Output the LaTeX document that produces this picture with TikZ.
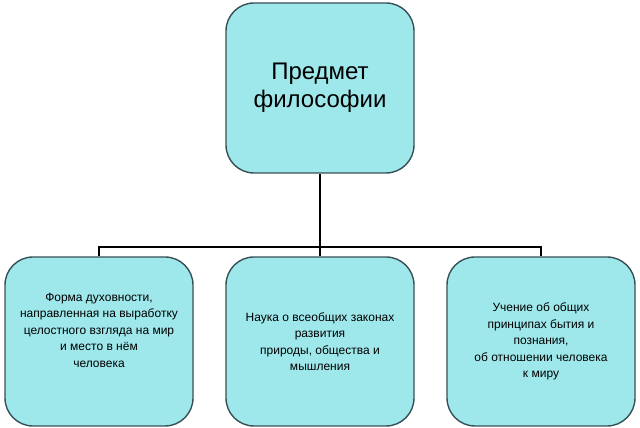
\documentclass[tikz,border=0pt]{standalone}
\usepackage{fontspec}
\setmainfont{Liberation Sans}
\usepackage{tikz}
\usetikzlibrary{positioning}
\definecolor{boxfill}{RGB}{158,232,236}
\definecolor{boxline}{RGB}{55,80,85}

\begin{document}
\begin{tikzpicture}[x=1pt,y=1pt,on grid,
    topic/.style={draw=boxline,line width=1.4pt,fill=boxfill,rounded corners=28pt,
        minimum width=188pt,minimum height=170pt,inner sep=0pt,align=center,
        font=\fontsize{24}{28}\selectfont},
    branch/.style={topic,minimum height=169pt,font=\fontsize{12}{16.5}\selectfont},
    link/.style={line width=2pt,black}]
    \useasboundingbox (0,0) rectangle (640,428);

    \node[topic] (subj) at (320,340) {Предмет\\философии};
    \node[branch] (sci) [below=253.5pt of subj] {Наука о всеобщих законах\\развития\\природы, общества и\\мышления};
    \node[branch] (form) [left=221pt of sci] {\fontsize{12}{12.2}\selectfont Форма духовности,\\направленная на выработку\\целостного взгляда на мир\\и место в нём\\человека\\[6pt]};
    \node[branch] (doct) [right=221pt of sci] {Учение об общих\\принципах бытия и\\познания,\\об отношении человека\\к миру};

    \coordinate (bar) at (320,181);
    \draw[link] (subj.south) -- (sci.north);
    \draw[link] (form.north) |- (bar) -| (doct.north);
\end{tikzpicture}
\end{document}
